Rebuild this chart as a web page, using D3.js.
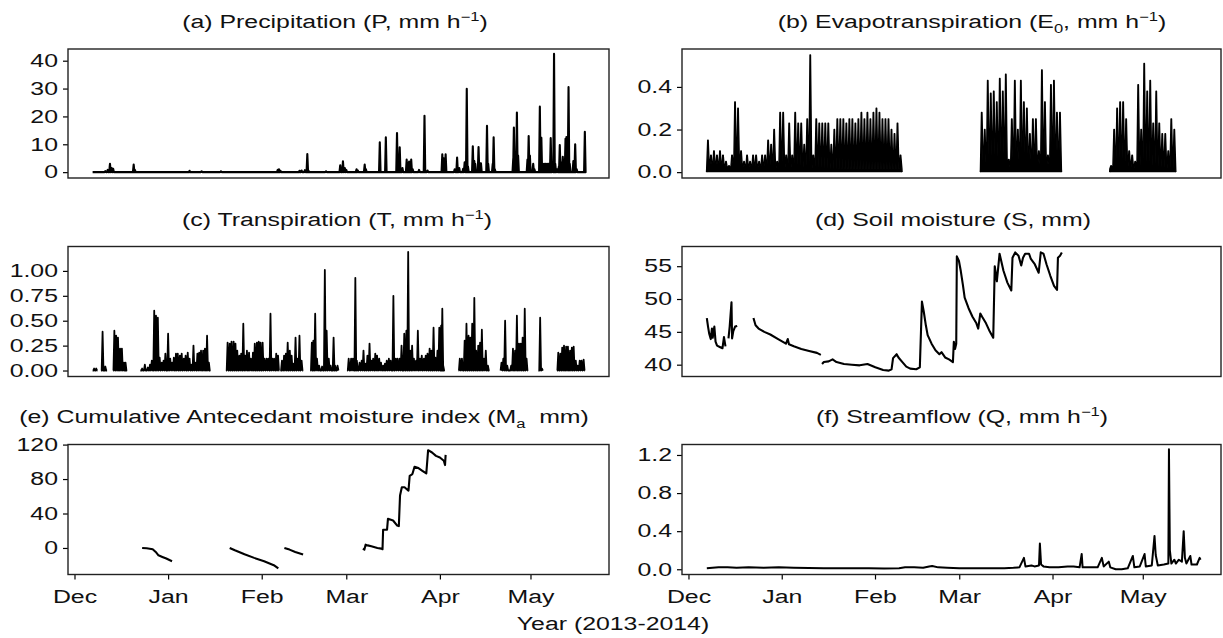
<!DOCTYPE html>
<html><head><meta charset="utf-8">
<script src="https://cdn.jsdelivr.net/npm/d3@7"></script>
<style>
body{margin:0;background:#fff;}
text{font-family:"Liberation Sans",Arial,Helvetica,sans-serif;fill:#111;}
</style>
</head><body>
<svg id="chart" width="1223" height="638" xmlns="http://www.w3.org/2000/svg"></svg>
<script>
// ---------------- DATA (x = days since 1 Dec 2013) ----------------
const recordStart = "2013-12-01";
const monthTickDates = ["2013-12-01","2014-01-01","2014-02-01","2014-03-01","2014-04-01","2014-05-01"];
const monthTickLabels = ["Dec","Jan","Feb","Mar","Apr","May"];
const xAxisTitle = "Year (2013-2014)";

// (a) Precipitation, mm/h : record periods and rain pulses [day, value]
const precipRecord = [[6.0,169.0]];
const precipitation = [[10.2,0.4],[11.0,0.8],[11.75,3.0],[12.3,1.5],[12.8,1.2],[19.6,2.7],[20,0.8],[38.1,0.5],[42.1,0.3],[48.5,0.3],
 [67.3,0.8],[67.7,1.0],[68.2,0.5],[74.5,0.5],[75.2,0.6],[76.3,0.7],[77.1,6.5],[77.5,0.5],[83.3,0.3],[88.0,2.5],[88.9,3.9],[89.5,1.5],
 [90,0.8],[93.4,1.0],[93.8,0.6],[96.1,2.7],[96.5,1.0],[101.1,10.7],[103.1,12.5],[106.8,14.0],[107.7,8.9],[108.6,1.5],[110.0,4.5],
 [110.4,3.2],[110.8,3.8],[111.5,4.5],[112,1.0],[114.1,0.8],[115.9,20.2],[116.9,0.6],[121.8,6.4],[122.3,5.0],[122.9,6.4],[125.9,1.0],
 [126.7,5.2],[127.4,1.5],[128.7,1.2],[129.2,3.5],[129.9,29.9],[130.3,2.0],[131.9,9.3],[132.4,4.0],[132.7,3.0],[133.8,9.0],[134.2,3.3],
 [134.6,3.2],[136.6,16.6],[137.0,3.0],[138.5,3.0],[138.8,12.5],[139.2,1.0],[145.3,5.0],[145.5,16.0],[146.5,21.4],[146.9,6.0],
 [150.0,4.5],[150.4,13.0],[150.8,6.0],[151.9,3.0],[152.3,1.0],[154.1,23.5],[154.6,12.3],[155.0,3.0],[155.5,3.0],[156.0,3.0],
 [156.5,3.0],[157.0,3.0],[157.4,3.0],[157.7,12.2],[158.3,3.0],[158.8,42.5],[159.2,3.0],[159.8,1.0],[160.4,2.0],[160.7,9.7],
 [161.3,3.5],[161.7,5.5],[162.2,4.0],[162.6,12.0],[162.9,12.6],[163.6,30.5],[164,3.0],[165.2,4.0],[165.8,10.0],[166.3,1.0],[169.0,14.5]];

// (b) Evapotranspiration E0 : daily peak (mm/h) for each measured block, first day of each block
const e0BlockStart = [6, 97, 140];
const e0Block1 = [0.15,0.08,0.1,0.08,0.1,0.08,0.05,0.03,0.08,0.33,0.3,0.1,0.05,0.08,0.05,0.08,0.08,0.05,0.08,0.08,0.15,0.13,0.2,0.05,
 0.28,0.28,0.08,0.23,0.08,0.28,0.23,0.23,0.13,0.25,0.55,0.08,0.25,0.23,0.23,0.23,0.23,0.13,0.2,0.25,0.25,0.25,0.23,0.25,0.25,0.23,
 0.25,0.28,0.25,0.28,0.25,0.28,0.3,0.28,0.25,0.25,0.25,0.2,0.18,0.23,0.08];
const e0Block2 = [0.28,0.2,0.43,0.37,0.38,0.33,0.44,0.38,0.46,0.06,0.25,0.43,0.2,0.43,0.33,0.3,0.18,0.25,0.25,0.1,0.48,0.33,0.08,
 0.41,0.43,0.28,0.28];
const e0Block3 = [0.03,0.2,0.3,0.33,0.33,0.25,0.1,0.08,0.05,0.41,0.2,0.51,0.38,0.43,0.23,0.38,0.23,0.18,0.18,0.1,0.25,0.2];

// (c) Transpiration, mm/h : record periods and pulses [day, value]
const transpRecord = [[6.0,7.6],[8.8,10.8],[12.8,16.9],[21.8,44.5],[50.5,67.8],[68.7,75.4],[78.4,87.4],[90.6,122.1],
 [127.2,136.9],[141.1,149.9],[153.6,155.1],[159.8,169.0]];
const transpiration = [[6.5,0.02],[7.2,0.02],[9.3,0.39],[9.8,0.03],[10.2,0.04],
 [13.2,0.40],[13.8,0.35],[14.4,0.33],[15.1,0.22],[15.7,0.22],[16.4,0.08],[16.9,0.08],
 [22.4,0.02],[23.3,0.06],[24.3,0.03],[25.0,0.06],[25.6,0.1],[26.4,0.6],[27.0,0.55],[27.6,0.53],[28.2,0.13],[28.9,0.08],[29.5,0.1],
 [30.1,0.17],[31.0,0.37],[31.7,0.12],[32.3,0.08],[32.9,0.13],[33.6,0.17],[34.2,0.17],[34.9,0.15],[35.5,0.17],[36.2,0.12],[36.8,0.15],
 [37.5,0.18],[38.1,0.12],[38.8,0.06],[39.4,0.25],[40.0,0.08],[40.7,0.17],[41.3,0.18],[41.9,0.2],[42.6,0.2],[43.2,0.22],[43.9,0.35],[44.5,0.08],
 [50.7,0.28],[51.4,0.27],[52.0,0.29],[52.7,0.29],[53.3,0.27],[53.9,0.2],[54.6,0.15],[55.2,0.17],[55.9,0.47],[56.5,0.15],[57.1,0.2],
 [57.8,0.18],[58.4,0.12],[59.1,0.18],[59.7,0.27],[60.4,0.28],[61.0,0.29],[61.6,0.28],[62.3,0.28],[62.9,0.12],[63.6,0.12],[64.2,0.12],
 [64.9,0.57],[65.5,0.12],[66.1,0.12],[66.8,0.17],[67.4,0.15],
 [68.7,0.1],[69.4,0.15],[70.0,0.17],[70.6,0.28],[71.3,0.2],[71.9,0.15],[72.6,0.07],[73.2,0.33],[73.9,0.12],[74.5,0.35],[75.2,0.1],
 [78.6,0.28],[79.1,0.3],[79.7,0.57],[80.3,0.12],[81.0,0.05],[82.0,0.04],[82.9,1.01],[83.5,0.4],[84.2,0.12],[84.8,0.05],[85.8,0.33],
 [86.3,0.05],[87.1,0.05],
 [90.8,0.12],[91.6,0.12],[92.2,0.12],[93.0,0.93],[93.5,0.1],[94.4,0.08],[95.1,0.1],[95.7,0.2],[96.4,0.07],[97.0,0.15],[97.7,0.27],
 [98.3,0.1],[98.9,0.12],[99.6,0.17],[100.2,0.15],[100.9,0.12],[101.5,0.08],[102.2,0.05],[102.8,0.07],[103.4,0.1],[104.1,0.12],
 [104.7,0.1],[105.6,0.75],[106.4,0.12],[107.0,0.12],[107.7,0.12],[108.3,0.25],[109.2,0.37],[109.9,0.4],[110.5,1.19],[111.2,0.2],
 [111.8,0.25],[112.4,0.12],[113.1,0.1],[113.7,0.4],[114.4,0.12],[115.0,0.15],[115.7,0.12],[116.3,0.15],[116.9,0.17],[117.6,0.22],
 [118.2,0.2],[118.9,0.43],[119.5,0.13],[120.2,0.2],[120.8,0.43],[121.4,0.45],[121.8,0.62],[122.1,0.05],
 [127.6,0.12],[128.3,0.12],[129.2,0.3],[129.8,0.47],[130.5,0.35],[131.1,0.33],[131.7,0.47],[132.4,0.73],[133.0,0.2],[133.7,0.25],
 [134.3,0.28],[134.9,0.41],[135.6,0.12],[136.2,0.2],[136.9,0.05],
 [141.4,0.08],[142.0,0.12],[142.6,0.5],[143.3,0.05],[144.6,0.05],[145.2,0.22],[145.9,0.2],[146.5,0.55],[147.2,0.27],[147.8,0.27],
 [148.4,0.33],[149.1,0.62],[149.7,0.12],
 [154.2,0.53],[154.8,0.02],
 [160.2,0.18],[160.9,0.17],[161.5,0.23],[162.1,0.25],[162.8,0.24],[163.4,0.24],[164.1,0.2],[164.7,0.23],[165.3,0.24],[166.0,0.1],
 [166.6,0.05],[167.3,0.1],[167.9,0.1],[168.6,0.11]];

// (d) Soil moisture, mm  (null = gap)
const soilMoisture = [[6.1,47.1],[6.5,45.8],[6.9,44.7],[7.4,43.9],[7.8,45.5],[8.05,44.1],[8.6,45.8],[9.0,43.5],[9.5,42.9],[10.4,42.7],
 [11.3,42.5],[11.8,44.2],[12.3,42.8],null,
 [13.3,44.0],[13.7,45.8],[14.3,49.5],[14.5,44.0],[14.9,45.1],[15.5,45.8],[16.2,45.9],null,
 [21.6,47.1],[22.3,46.0],[23.3,45.5],[25.2,45.0],[27.2,44.6],[29.8,43.9],[32.4,43.2],[33.0,43.9],[33.4,43.1],[35.0,42.8],[37.5,42.4],
 [40.1,42.1],[42.7,41.8],[44.0,41.5],null,
 [44.4,40.1],[45.0,40.4],[46.6,40.5],[47.9,40.8],[49.2,40.4],[51.7,40.1],[54.3,40.0],[56.9,39.9],[59.5,40.1],[62.1,39.6],[64.7,39.2],
 [66.6,39.1],[67.5,39.3],[68.0,41.0],[69.2,41.6],[69.8,41.1],[71.1,40.4],[72.4,39.7],[73.7,39.4],[75.7,39.3],[76.9,39.6],[77.6,49.6],
 [78.2,48.1],[78.9,46.0],[79.5,44.5],[80.8,43.2],[82.1,42.2],[83.4,41.6],[84.1,41.9],[85.3,41.1],[86.6,40.8],[87.9,40.4],[88.2,43.5],
 [88.6,42.4],[89.0,43.2],[89.2,56.5],[89.9,55.8],[90.5,54.3],[91.2,52.2],[91.8,50.2],[93.1,48.6],[94.4,47.3],[95.7,46.3],[96.3,45.5],
 [97.0,47.8],[97.6,47.3],[98.9,46.3],[100.2,45.0],[101.3,44.1],[101.8,55.0],[102.5,52.7],[103.4,56.9],[104.7,54.3],[106.0,52.5],
 [107.3,51.3],[107.7,56.3],[108.6,57.1],[109.7,56.6],[110.6,55.1],[111.2,56.3],[111.9,56.9],[113.2,56.9],[113.8,56.1],[115.1,55.3],
 [116.4,54.0],[117.1,57.1],[118.0,56.9],[119.0,55.3],[120.3,53.5],[121.5,52.0],[122.5,51.4],[122.8,56.3],[123.5,56.6],[124.1,57.1]];

// (e) Cumulative antecedent moisture index, mm (null = gap)
const moistureIndex = [[22.4,0],[23.9,-0.4],[25.9,-1.5],[26.9,-4.6],[27.8,-8.5],[29.1,-10.4],[30.4,-12.3],[32.3,-15.4],null,
 [51.4,0],[53.1,-2.7],[56.3,-7.3],[59.5,-11.5],[62.8,-15.4],[66.0,-20],[67.5,-23.8],null,
 [69.5,0],[71.2,-1.9],[73.1,-4.6],[75.7,-7.7],null,
 [95.5,-0.8],[96.0,-1.9],[96.4,3.8],[97.1,3.0],[98.3,1.9],[100.3,0],[101.6,-0.8],[102.0,-1.5],[102.2,21.2],[103.5,21.2],[103.8,33.8],
 [105.5,31.9],[106.8,26.2],[107.4,25.4],[107.8,60.8],[108.4,70.4],[109.3,70.4],[110.6,66.5],[111.0,83.8],[111.9,85.8],[112.6,94.2],
 [113.9,92.7],[115.2,89.6],[116.5,86.5],[117.1,113.5],[118.4,110.8],[119.7,106.9],[121.0,105],[122.3,101.2],[122.7,96.2],[122.9,108.1]];

// (f) Streamflow, mm/h
const streamflow = [[6.1,0.01],[8,0.015],[10,0.02],[13,0.02],[16,0.015],[20,0.02],[25,0.015],[30,0.02],[35,0.015],[40,0.012],[45,0.01],
 [50,0.01],[55,0.01],[60,0.01],[65,0.008],[70,0.01],[72,0.02],[75,0.02],[78,0.015],[80,0.03],[81,0.035],[83,0.02],[86,0.015],[90,0.01],
 [95,0.01],[100,0.01],[105,0.01],[108,0.015],[110,0.02],[111.5,0.12],[112,0.03],[114,0.04],[115,0.03],[116.5,0.04],[116.8,0.27],
 [117.2,0.05],[118,0.03],[120,0.02],[123,0.02],[126,0.03],[128,0.03],[130,0.02],[130.7,0.16],[131,0.02],[133,0.02],[136,0.02],
 [137.4,0.12],[138,0.03],[139.7,0.08],[140.2,0.02],[142,0.0],[144,0.0],[146,0.01],[147.7,0.14],[148.2,0.02],[150,0.03],[151.6,0.16],
 [152,0.03],[154,0.04],[154.9,0.35],[155.3,0.15],[156,0.04],[158,0.05],[159.5,0.06],[159.7,1.26],[160,0.2],[160.5,0.06],[161.5,0.1],
 [162,0.06],[163,0.1],[164,0.08],[164.6,0.4],[165,0.12],[165.5,0.06],[166.8,0.14],[167.2,0.05],[168,0.05],[169,0.05],[169.9,0.12],[170.2,0.1]];

// tick values per panel
const ticksP = [0,10,20,30,40];
const ticksE0 = [0,0.2,0.4];
const ticksT = [0,0.25,0.5,0.75,1];
const ticksS = [40,45,50,55];
const ticksMa = [0,40,80,120];
const ticksQ = [0,0.4,0.8,1.2];

// ---------------- DRAWING ----------------
const svg = d3.select("#chart");
const t0 = d3.utcParse("%Y-%m-%d")(recordStart).getTime();
const dayToDate = d => new Date(t0 + d * 864e5);
const xDomain = [dayToDate(-2.15), dayToDate(177.0)];
const cols = [[68, 609], [682, 1221]];
const rows = [[49, 178], [246.5, 376.5], [444.5, 574.5]];
const FS = 18;     // font size (vertical)
const SX = 1.38;   // horizontal stretch of the lettering in the figure

function stretch(sel) {
  sel.each(function () {
    const t = d3.select(this);
    const x = +t.attr("x") || 0, y = +t.attr("y") || 0;
    t.attr("x", 0).attr("y", 0).attr("transform", `translate(${x},${y}) scale(${SX},1)`);
  });
}

let clipId = 0;
function makePanel(col, row, yDomain, yTicks, yFmt, showX) {
  const [x0, x1] = cols[col], [y0, y1] = rows[row];
  const x = d3.scaleUtc().domain(xDomain).range([x0, x1]);
  const y = d3.scaleLinear().domain(yDomain).range([y1, y0]);
  const g = svg.append("g");
  const id = "clip" + (clipId++);
  g.append("clipPath").attr("id", id).append("rect")
    .attr("x", x0).attr("y", y0).attr("width", x1 - x0).attr("height", y1 - y0);
  const plot = g.append("g").attr("clip-path", `url(#${id})`);
  const ya = g.append("g").attr("transform", `translate(${x0},0)`)
    .call(d3.axisLeft(y).tickValues(yTicks).tickFormat(yFmt).tickSize(5).tickPadding(5));
  ya.select(".domain").remove();
  ya.selectAll("line").attr("stroke", "#000").attr("stroke-width", 1.2);
  ya.selectAll("text").attr("font-size", FS).attr("fill", "#111").style("font-family", '"Liberation Sans",Arial,sans-serif');
  stretch(ya.selectAll("text"));
  if (showX) {
    const xa = g.append("g").attr("transform", `translate(0,${y1})`)
      .call(d3.axisBottom(x).tickValues(monthTickDates.map(s => d3.utcParse("%Y-%m-%d")(s)))
        .tickFormat((d, i) => monthTickLabels[i]).tickSize(5).tickPadding(11));
    xa.select(".domain").remove();
    xa.selectAll("line").attr("stroke", "#000").attr("stroke-width", 1.2);
    xa.selectAll("text").attr("font-size", FS).attr("fill", "#111").style("font-family", '"Liberation Sans",Arial,sans-serif');
    stretch(xa.selectAll("text"));
  }
  const frame = () => g.append("rect").attr("x", x0).attr("y", y0).attr("width", x1 - x0).attr("height", y1 - y0)
    .attr("fill", "none").attr("stroke", "#222").attr("stroke-width", 1.4);
  return { x, y, plot, frame, x0, x1, y0, y1 };
}

function title(cx, cy, parts) {
  const t = svg.append("text").attr("text-anchor", "middle")
    .attr("transform", `translate(${cx},${cy}) scale(${SX},1)`)
    .attr("font-size", FS).style("white-space", "pre");
  parts.forEach(p => {
    const s = t.append("tspan").text(p.t);
    if (p.sup) s.attr("font-size", 12).attr("dy", -7);
    if (p.sub) s.attr("font-size", 12).attr("dy", 5);
    if (p.back) s.attr("dy", p.back);
  });
  return t;
}

function spikeLines(p, record, pulses, halfW, sw, fill) {
  const line = d3.line().x(d => p.x(dayToDate(d[0]))).y(d => p.y(d[1]));
  record.forEach(([s, e]) => {
    const pts = [[s, 0]];
    pulses.filter(q => q[0] >= s - 0.01 && q[0] <= e + 0.01).forEach(([d, v]) => {
      pts.push([d - halfW, 0], [d, v], [d + halfW, 0]);
    });
    pts.push([e, 0]);
    p.plot.append("path").attr("d", line(pts)).attr("fill", fill ? "#000" : "none").attr("stroke", "#000")
      .attr("stroke-width", sw).attr("stroke-linejoin", "round");
  });
}

function plainLine(p, data, sw) {
  const line = d3.line().defined(d => d != null).x(d => p.x(dayToDate(d[0]))).y(d => p.y(d[1]));
  p.plot.append("path").attr("d", line(data)).attr("fill", "none").attr("stroke", "#000")
    .attr("stroke-width", sw).attr("stroke-linejoin", "round");
}

const fmtInt = d3.format("d"), fmt1 = d3.format(".1f"), fmt2 = d3.format(".2f");

// (a)
const pa = makePanel(0, 0, [-2.1, 44.2], ticksP, fmtInt, false);
spikeLines(pa, precipRecord, precipitation, 0.25, 2.1, true);
pa.frame();
// (b)
const pb = makePanel(1, 0, [-0.0275, 0.578], ticksE0, fmt1, false);
{
  const line = d3.line().x(d => pb.x(dayToDate(d[0]))).y(d => pb.y(d[1]));
  [e0Block1, e0Block2, e0Block3].forEach((blk, bi) => {
    const s = e0BlockStart[bi];
    const pts = [[s, 0]];
    blk.forEach((v, i) => { pts.push([s + i + 0.05, 0.015], [s + i + 0.4, v], [s + i + 0.55, v], [s + i + 0.95, 0.015]); });
    pts.push([s + blk.length, 0]);
    pb.plot.append("path").attr("d", line(pts)).attr("fill", "#000").attr("stroke", "#000")
      .attr("stroke-width", 1.4).attr("stroke-linejoin", "round");
  });
}
pb.frame();
// (c)
const pc = makePanel(0, 1, [-0.06, 1.245], ticksT, fmt2, false);
spikeLines(pc, transpRecord, transpiration, 0.3, 1.8, true);
pc.frame();
// (d)
const pd = makePanel(1, 1, [38.2, 58.0], ticksS, fmtInt, false);
plainLine(pd, soilMoisture, 2.1);
pd.frame();
// (e)
const pe = makePanel(0, 2, [-30.8, 120.1], ticksMa, fmtInt, true);
plainLine(pe, moistureIndex, 2.1);
pe.frame();
// (f)
const pf = makePanel(1, 2, [-0.055, 1.31], ticksQ, fmt1, true);
plainLine(pf, streamflow, 2);
pf.frame();

// titles
title(335, 28, [{t:"(a) Precipitation (P, mm h"},{t:"\u22121",sup:true},{t:")",back:7}]);
title(972, 28, [{t:"(b) Evapotranspiration (E"},{t:"0",sub:true},{t:", mm h",back:-5},{t:"\u22121",sup:true},{t:")",back:7}]);
title(337, 226, [{t:"(c) Transpiration (T, mm h"},{t:"\u22121",sup:true},{t:")",back:7}]);
title(953, 226, [{t:"(d) Soil moisture (S, mm)"}]);
title(304, 423, [{t:"(e) Cumulative Antecedant moisture index (M"},{t:"a",sub:true},{t:"  mm)",back:-5}]);
title(962, 423, [{t:"(f) Streamflow (Q, mm h"},{t:"\u22121",sup:true},{t:")",back:7}]);

svg.append("text").attr("text-anchor", "middle").attr("font-size", FS)
  .attr("transform", `translate(613,630) scale(${SX},1)`).text(xAxisTitle);
</script>
</body></html>
